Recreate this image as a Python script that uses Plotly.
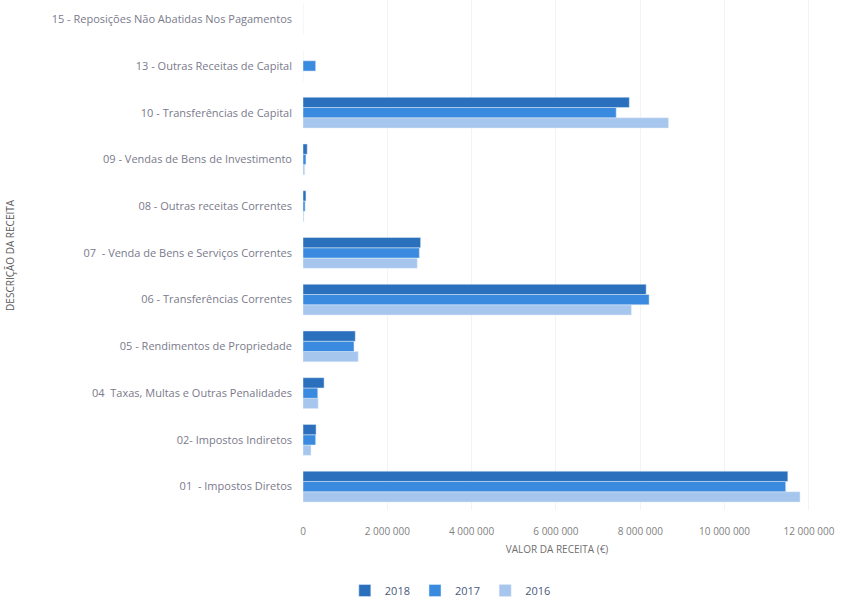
import plotly.graph_objects as go

categories = [
    "01  - Impostos Diretos",
    "02- Impostos Indiretos",
    "04  Taxas, Multas e Outras Penalidades",
    "05 - Rendimentos de Propriedade",
    "06 - Transferências Correntes",
    "07  - Venda de Bens e Serviços Correntes",
    "08 - Outras receitas Correntes",
    "09 - Vendas de Bens de Investimento",
    "10 - Transferências de Capital",
    "13 - Outras Receitas de Capital",
    "15 - Reposições Não Abatidas Nos Pagamentos",
]
v2018 = [11500000, 310000, 500000, 1240000, 8140000, 2790000, 70000, 100000, 7740000, 0, 0]
v2017 = [11450000, 300000, 350000, 1210000, 8210000, 2760000, 50000, 70000, 7430000, 300000, 0]
v2016 = [11790000, 190000, 360000, 1310000, 7790000, 2710000, 20000, 40000, 8670000, 0, 0]
tick_vals = [0, 2000000, 4000000, 6000000, 8000000, 10000000, 12000000]
tick_text = ["0", "2 000 000", "4 000 000", "6 000 000", "8 000 000", "10 000 000", "12 000 000"]

fig = go.Figure()
# order: 2016 first so that in horizontal grouped bars 2018 ends on top
fig.add_trace(go.Bar(y=categories, x=v2016, orientation="h", name="2016",
                     marker_color="#a6c6ee"))
fig.add_trace(go.Bar(y=categories, x=v2017, orientation="h", name="2017",
                     marker_color="#3a8be0"))
fig.add_trace(go.Bar(y=categories, x=v2018, orientation="h", name="2018",
                     marker_color="#2a70bd"))

fig.update_layout(
    width=841, height=605,
    paper_bgcolor="white", plot_bgcolor="white",
    barmode="group", bargap=0.34, bargroupgap=0.0,
    margin=dict(l=303, r=30, t=0, b=95),
    font=dict(family="Open Sans, Lato, sans-serif", size=11, color="#6f6f80"),
    legend=dict(orientation="h", x=0.29, xanchor="center", y=-0.014, yanchor="bottom",
                yref="container", traceorder="reversed", itemwidth=30,
                font=dict(size=11, color="#4a5a7a")),
    showlegend=True,
    annotations=[dict(text="DESCRIÇÃO DA RECEITA", xref="paper", yref="paper",
                      x=-0.577, y=0.5, xanchor="center", yanchor="middle",
                      textangle=-90, showarrow=False,
                      font=dict(size=10, color="#595959"))],
)
fig.update_xaxes(range=[0, 12050000], tickvals=tick_vals, ticktext=tick_text,
                 automargin=False,
                 showgrid=True, gridcolor="#f3f3f3", zeroline=False,
                 ticks="", ticklabelstandoff=14,
                 tickfont=dict(size=10, color="#7f7f7f"),
                 title=dict(text="VALOR DA RECEITA (€)", font=dict(size=10, color="#6f6f6f"),
                            standoff=8))
fig.update_yaxes(range=[-0.5, 10.41], automargin=False, showgrid=False, ticks="",
                 ticklabelstandoff=10,
                 tickfont=dict(size=11, color="#7a7a8c"))

fig.write_html("out.html", config={"displayModeBar": False},
               post_script="document.body.style.margin='0';")
